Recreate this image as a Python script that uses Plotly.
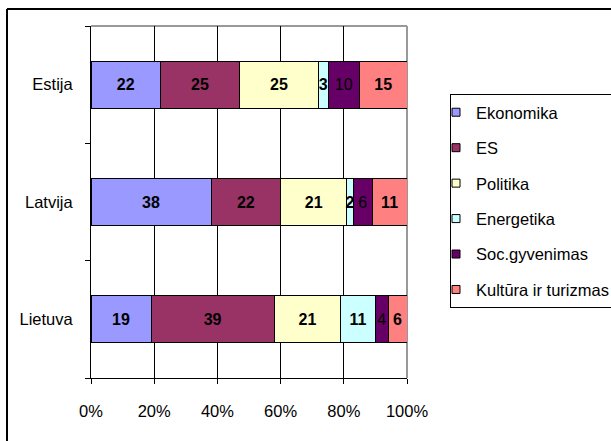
import plotly.graph_objects as go

categories = ["Lietuva", "Latvija", "Estija"]
series_names = ["Ekonomika", "ES", "Politika", "Energetika", "Soc.gyvenimas", "Kultūra ir turizmas"]
ekonomika = [19, 38, 22]
es = [39, 22, 25]
politika = [21, 21, 25]
energetika = [11, 2, 3]
soc_gyvenimas = [4, 6, 10]
kultura = [6, 11, 15]
x_ticks = [0, 20, 40, 60, 80, 100]

series_values = [ekonomika, es, politika, energetika, soc_gyvenimas, kultura]
colors = ["#9999FF", "#993366", "#FFFFCC", "#CCFFFF", "#660066", "#FF8080"]
weights = ["bold", "bold", "bold", "bold", "normal", "bold"]

FONT = "Liberation Sans, Arial, sans-serif"
FS = 16.5

W, H = 611, 441
ML, MR, MT, MB = 91, 204, 26, 63
pw = W - ML - MR
ph = H - MT - MB

fig = go.Figure()
for name, vals, col, wt in zip(series_names, series_values, colors, weights):
    fig.add_trace(go.Bar(
        y=categories, x=vals, orientation="h", name=name,
        marker=dict(color=col, line=dict(color="black", width=1)),
        text=vals, texttemplate="%{text}", textposition="inside",
        insidetextanchor="middle", textangle=0,
        textfont=dict(family=FONT, size=16, color="black", weight=wt),
        showlegend=False, hoverinfo="skip",
    ))
for i, (name, col) in enumerate(zip(series_names, colors)):
    fig.add_trace(go.Scatter(
        x=[None], y=[None], mode="markers", name=name, legendgroup=str(i),
        marker=dict(symbol="square", size=8, color=col, line=dict(color="black", width=1)),
    ))

def px2paperx(px):
    return (px - ML) / pw

def px2papery(py):
    return (H - MB - py) / ph

fig.update_layout(
    width=W, height=H,
    margin=dict(l=ML, r=MR, t=MT, b=MB, autoexpand=False),
    paper_bgcolor="white", plot_bgcolor="white",
    barmode="stack", bargap=0.6,
    font=dict(family=FONT, size=FS, color="black"),
    uniformtext=dict(mode="show", minsize=16),
    xaxis=dict(
        range=[0, 100], tickvals=x_ticks, ticktext=[f"{v}%" for v in x_ticks],
        showgrid=True, gridcolor="black", gridwidth=1,
        showline=True, linecolor="black", linewidth=1,
        ticks="outside", ticklen=5, tickcolor="black",
        zeroline=False, ticklabelstandoff=13, automargin=False,
        tickfont=dict(size=FS),
    ),
    yaxis=dict(
        type="category", categoryorder="array", categoryarray=categories,
        range=[-0.5, 2.5], tickson="boundaries",
        showgrid=False, showline=True, linecolor="black", linewidth=1,
        ticks="outside", ticklen=5, tickcolor="black",
        zeroline=False, ticklabelstandoff=14, automargin=False,
        tickfont=dict(size=FS),
    ),
    legend=dict(
        x=px2paperx(450), y=px2papery(94), xanchor="left", yanchor="top",
        bordercolor="black", borderwidth=1, bgcolor="white",
        font=dict(size=FS), traceorder="grouped", tracegroupgap=11,
        indentation=-15,
    ),
    shapes=[
        dict(type="line", xref="x domain", yref="y domain", x0=0, x1=1, y0=1, y1=1,
             line=dict(color="#999999", width=2), layer="below"),
        dict(type="line", xref="x domain", yref="y domain", x0=1, x1=1, y0=0, y1=1,
             line=dict(color="#999999", width=2), layer="below"),
        dict(type="line", xref="paper", yref="paper",
             x0=px2paperx(7), x1=px2paperx(700), y0=px2papery(9), y1=px2papery(9),
             line=dict(color="black", width=2)),
        dict(type="line", xref="paper", yref="paper",
             x0=px2paperx(7), x1=px2paperx(7), y0=px2papery(9), y1=px2papery(500),
             line=dict(color="black", width=2)),
    ],
)

fig.write_html(
    "out.html",
    config={"displayModeBar": False},
    post_script="document.body.style.margin='0';document.body.style.overflow='hidden';",
)
